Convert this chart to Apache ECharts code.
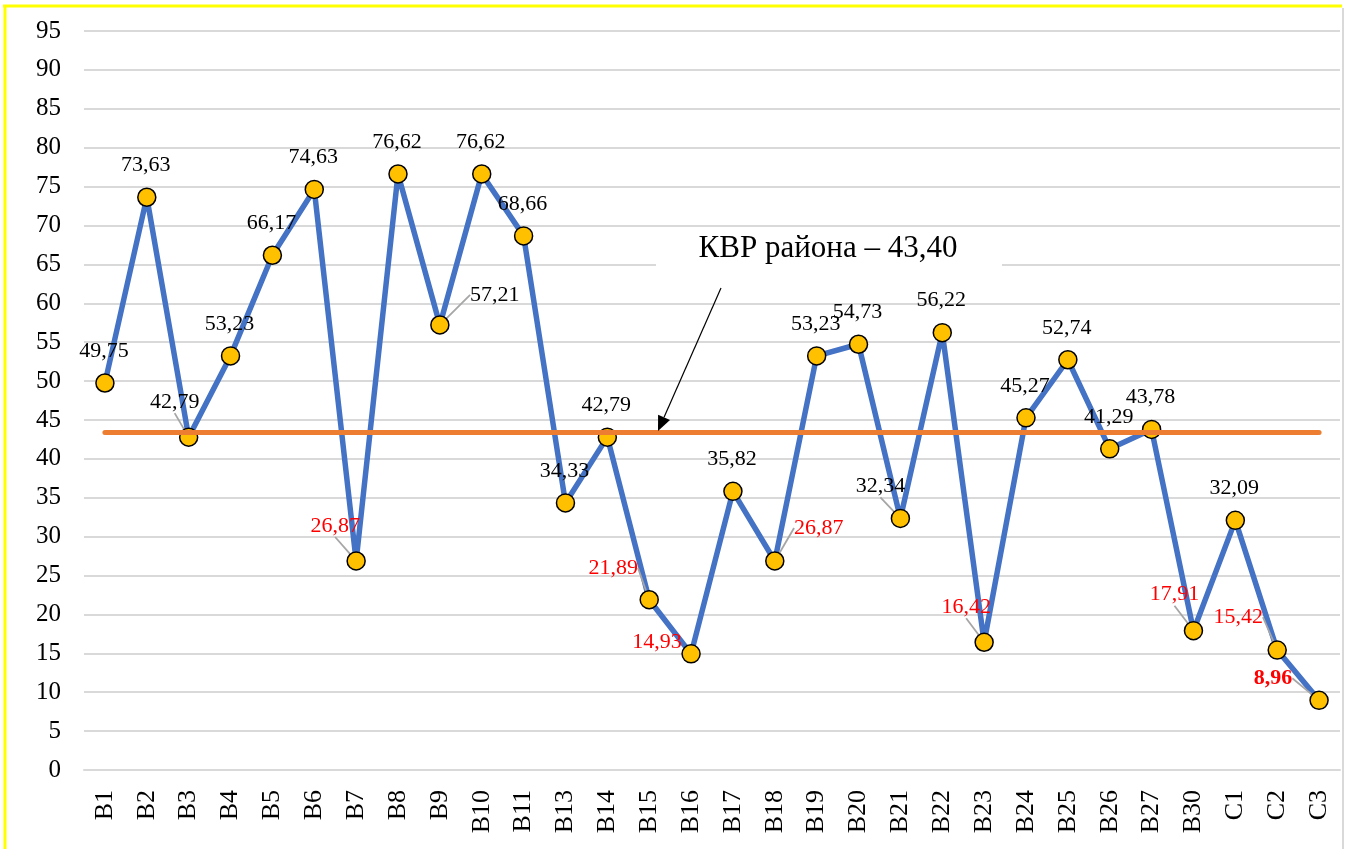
<!DOCTYPE html>
<html>
<head>
<meta charset="utf-8">
<script src="https://cdn.jsdelivr.net/npm/echarts@6/dist/echarts.min.js"></script>
<style>
html, body { margin: 0; padding: 0; background: #fff; }
#chart { width: 1349px; height: 849px; }
</style>
</head>
<body>
<div id="chart"></div>
<script>
// категории (школы)
var categories = ['B1', 'B2', 'B3', 'B4', 'B5', 'B6', 'B7', 'B8', 'B9', 'B10', 'B11', 'B13', 'B14', 'B15',
    'B16', 'B17', 'B18', 'B19', 'B20', 'B21', 'B22', 'B23', 'B24', 'B25', 'B26', 'B27', 'B30', 'C1', 'C2', 'C3'];
// КВР по школам
var values = [49.75, 73.63, 42.79, 53.23, 66.17, 74.63, 26.87, 76.62, 57.21, 76.62, 68.66, 34.33, 42.79, 21.89,
    14.93, 35.82, 26.87, 53.23, 54.73, 32.34, 56.22, 16.42, 45.27, 52.74, 41.29, 43.78, 17.91, 32.09, 15.42, 8.96];
// КВР района
var districtAvg = 43.40;
var yMin = 0, yMax = 95, yStep = 5;

var font = "'Liberation Serif', 'Times New Roman', serif";

// сдвиг подписей от точки [dx, dy]
var labelShift = {
    'B3': [-14, -35], 'B7': [-21, -35], 'B9': [55, -30], 'B15': [-36, -32], 'B16': [-34, -12],
    'B18': [44, -33], 'B21': [-20, -32], 'B23': [-18, -35], 'B30': [-19, -36], 'C2': [-39, -33],
    'C3': [-46, -22]
};
var withLeader = ['B3', 'B7', 'B9', 'B15', 'B18', 'B21', 'B23', 'B30', 'C2', 'C3'];
var minValue = Math.min.apply(null, values);

function fmt(v) {
    return v.toFixed(2).replace('.', ',');
}

var seriesData = values.map(function (v, i) {
    return {
        value: v,
        label: {
            color: v < 30 ? '#ff0000' : '#000',
            fontWeight: v === minValue ? 'bold' : 'normal'
        },
        labelLine: { show: withLeader.indexOf(categories[i]) >= 0 }
    };
});

var myChart = echarts.init(document.getElementById('chart'));

var option = {
    animation: false,
    backgroundColor: '#fff',
    grid: { left: 84, right: 9, top: 31, bottom: 79, containLabel: false, outerBoundsMode: 'none' },
    xAxis: {
        type: 'category',
        data: categories,
        boundaryGap: true,
        axisLine: { show: true, lineStyle: { color: '#d9d9d9', width: 2 } },
        axisTick: { show: false },
        axisLabel: { rotate: 90, margin: 20, fontFamily: font, fontSize: 26, color: '#000', interval: 0 }
    },
    yAxis: {
        type: 'value',
        min: yMin,
        max: yMax,
        interval: yStep,
        axisLine: { show: false },
        axisTick: { show: false },
        splitLine: { lineStyle: { color: '#d9d9d9', width: 2 } },
        axisLabel: { margin: 23, fontFamily: font, fontSize: 25, color: '#000' }
    },
    series: [{
        type: 'line',
        data: seriesData,
        symbol: 'circle',
        symbolSize: 18,
        lineStyle: { color: '#4472c4', width: 5.5 },
        itemStyle: { color: '#ffc000', borderColor: '#000', borderWidth: 1.5 },
        z: 2,
        label: {
            show: true,
            position: 'inside',
            fontFamily: font,
            fontSize: 22,
            formatter: function (p) { return fmt(p.value); }
        },
        labelLine: { show: false, lineStyle: { color: '#a6a6a6', width: 1.8 } },
        labelLayout: function (p) {
            var s = labelShift[categories[p.dataIndex]] || [-1, -32];
            return { dx: s[0], dy: s[1], hideOverlap: false };
        }
    }, {
        type: 'line',
        data: [],
        z: 5,
        markLine: {
            silent: true,
            symbol: ['none', 'none'],
            label: { show: false },
            lineStyle: { color: '#ed7d31', width: 5, type: 'solid', cap: 'round' },
            data: [[
                { coord: [categories[0], districtAvg] },
                { coord: [categories[categories.length - 1], districtAvg] }
            ]]
        }
    }]
};

myChart.setOption(option);

// подпись КВР района со стрелкой и рамка
(function () {
    var tail = [721, 288], tip = [658, 431];
    var ux = tip[0] - tail[0], uy = tip[1] - tail[1];
    var len = Math.sqrt(ux * ux + uy * uy);
    ux /= len; uy /= len;
    var hl = 15, hw = 6.5;
    var bx = tip[0] - ux * hl, by = tip[1] - uy * hl;
    myChart.setOption({
        graphic: [
            { type: 'rect', z: 1, shape: { x: 656, y: 228, width: 346, height: 64 }, style: { fill: '#fff' } },
            {
                type: 'text', z: 1, x: 828, y: 249,
                style: { text: 'КВР района – 43,40', font: '31px ' + font, fill: '#000', align: 'center', verticalAlign: 'middle' }
            },
            { type: 'line', z: 10, shape: { x1: tail[0], y1: tail[1], x2: bx, y2: by }, style: { stroke: '#000', lineWidth: 1.2 } },
            {
                type: 'polygon', z: 10,
                shape: { points: [tip, [bx - uy * hw, by + ux * hw], [bx + uy * hw, by - ux * hw]] },
                style: { fill: '#000' }
            },
            { type: 'line', z: 20, shape: { x1: 3, y1: 6, x2: 1342, y2: 6 }, style: { stroke: '#ffff00', lineWidth: 3 } },
            { type: 'line', z: 20, shape: { x1: 5, y1: 5, x2: 5, y2: 849 }, style: { stroke: '#ffff00', lineWidth: 3 } },
            { type: 'line', z: 20, shape: { x1: 1343, y1: 8, x2: 1343, y2: 849 }, style: { stroke: '#d9d9d9', lineWidth: 2 } }
        ]
    });
})();

window.addEventListener('resize', function () {
    myChart.resize();
});
</script>
</body>
</html>
